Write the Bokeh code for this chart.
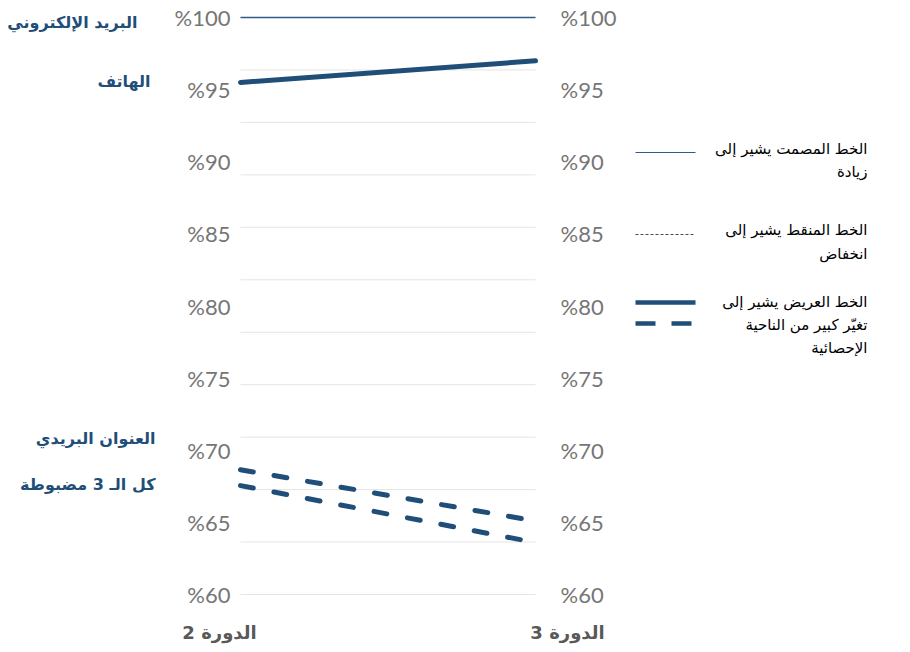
from bokeh.plotting import figure
from bokeh.models import Range1d
from bokeh.embed import file_html
from bokeh.resources import INLINE
from bokeh.core.properties import value

# ---- data ----
periods = ["الدورة 2", "الدورة 3"]
series_names = ["البريد الإلكتروني", "الهاتف", "العنوان البريدي", "كل الـ 3 مضبوطة"]
email = [100.0, 100.0]
phone = [95.5, 97.0]
postal = [68.65, 65.1]
all_three = [67.55, 63.6]
tick_values = [60, 65, 70, 75, 80, 85, 90, 95, 100]
tick_labels = ["%60", "%65", "%70", "%75", "%80", "%85", "%90", "%95", "%100"]
legend_texts = [
    ["الخط المصمت يشير إلى", "زيادة"],
    ["الخط المنقط يشير إلى", "انخفاض"],
    ["الخط العريض يشير إلى", "تغيّر كبير من الناحية", "الإحصائية"],
]

# ---- layout helpers (picture pixels -> data) ----
W, H = 900, 648
def cx(px):
    return (px - 240.0) / 295.0
def cy(py):
    return 100.0 - (py - 17.0) * 40.0 / 577.0

p = figure(width=W, height=H, output_backend="svg", toolbar_location=None,
           x_axis_type=None, y_axis_type=None, min_border=0,
           x_range=Range1d(cx(0), cx(W)), y_range=Range1d(cy(H), cy(0)))
p.outline_line_color = None
p.xgrid.visible = False
p.ygrid.visible = False
p.background_fill_color = "white"
p.border_fill_color = "white"

BLUE = "#1f4e79"
GRAY = "#767676"

# gridlines (11 equal intervals spanning the chart area)
n_grid = 11
grid_y = [60 + k * 40.0 / n_grid for k in range(n_grid + 1)]
p.segment(x0=[0] * len(grid_y), x1=[1] * len(grid_y), y0=grid_y, y1=grid_y,
          line_color="#e4e4e4", line_width=1)

# series lines
xs = [0, 1]
p.line(xs, email, line_color="#2e5b8a", line_width=1.5)
p.line(xs, phone, line_color=BLUE, line_width=5, line_cap="round")
p.line(xs, postal, line_color=BLUE, line_width=5, line_cap="round", line_dash="13 21")
p.line(xs, all_three, line_color=BLUE, line_width=5, line_cap="round", line_dash="13 21")

# tick labels left and right
p.text(x=[cx(230)] * len(tick_values), y=tick_values, text=tick_labels,
       text_font=value("Lato"), text_font_size="22px", text_color=GRAY,
       text_align="right", text_baseline="middle")
p.text(x=[cx(560)] * len(tick_values), y=tick_values, text=tick_labels,
       text_font=value("Lato"), text_font_size="22px", text_color=GRAY,
       text_align="left", text_baseline="middle")

# period labels
p.text(x=[cx(219), cx(567)], y=[cy(632)] * 2, text=periods,
       text_font=value("DejaVu Sans"), text_font_size="18px", text_font_style="bold",
       text_color="#595959", text_align="center", text_baseline="middle")

# series labels
lab_x = [cx(137), cx(150), cx(155), cx(155)]
lab_y = [cy(22), cy(81), cy(438), cy(484)]
p.text(x=lab_x, y=lab_y, text=series_names,
       text_font=value("DejaVu Sans"), text_font_size="16px", text_font_style="bold",
       text_color=BLUE, text_align="right", text_baseline="middle")

# legend samples
lx0, lx1 = cx(635), cx(695)
p.segment(x0=[lx0], x1=[lx1], y0=[cy(152)], y1=[cy(152)], line_color="#2e5b8a", line_width=1)
p.segment(x0=[lx0], x1=[lx1], y0=[cy(234)], y1=[cy(234)], line_color="#4a4a4a",
          line_width=1, line_dash="3 2")
p.segment(x0=[lx0], x1=[lx1], y0=[cy(302)], y1=[cy(302)], line_color=BLUE, line_width=4.5)
p.segment(x0=[lx0], x1=[lx1], y0=[cy(323)], y1=[cy(323)], line_color=BLUE, line_width=4.5,
          line_dash="20 16")

# legend texts
leg_rows_y = [[148, 171], [229, 253], [301, 324, 347]]
tx, ty, tt = [], [], []
for lines, ys in zip(legend_texts, leg_rows_y):
    for t, yy in zip(lines, ys):
        tx.append(cx(867))
        ty.append(cy(yy))
        tt.append(t)
p.text(x=tx, y=ty, text=tt, text_font=value("DejaVu Sans"), text_font_size="15px",
       text_color="#000000", text_align="right", text_baseline="middle")

open("out.html", "w").write(file_html(p, INLINE))
